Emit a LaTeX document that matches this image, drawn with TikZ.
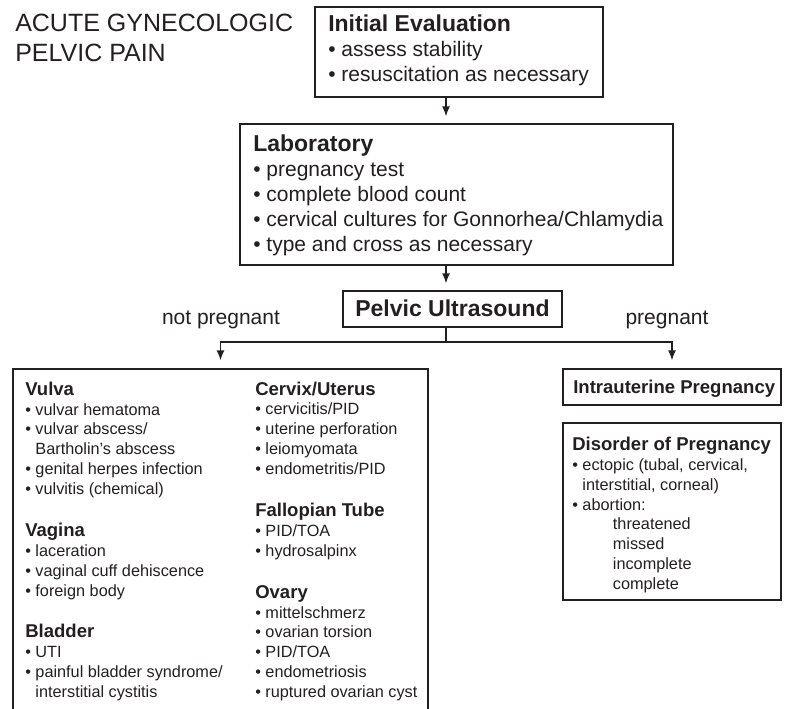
\documentclass[tikz,border=0pt]{standalone}
\usepackage{fontspec}
\setmainfont{Liberation Sans}
\usetikzlibrary{arrows.meta,fit}

\definecolor{ink}{RGB}{35,31,32}

\tikzset{
  boxline/.style={draw=ink, line width=1pt, inner sep=0pt},
  % multi-line text nodes sit on the baseline of their last line
  bigtext/.style={anchor=base west, inner sep=0pt, align=left, text=ink, font=\fontsize{15.75}{18.75}\selectfont},
  smalltext/.style={anchor=base west, inner sep=0pt, align=left, text=ink, font=\fontsize{12.2}{14.8}\selectfont},
  flow/.style={draw=ink, line width=1.1pt},
  arr/.style={flow, -{Latex[length=7.5pt,width=6pt]}},
}
\newcommand{\bighead}[1]{{\fontsize{17.25}{18.75}\selectfont\bfseries #1}}
\newcommand{\smallhead}[1]{{\fontsize{13.9}{14.8}\selectfont\bfseries #1}}
\newcommand{\itm}{\textbullet\ }
\newcommand{\cnt}{\hphantom{\textbullet}\ }

\begin{document}
\begin{tikzpicture}[x=0.75pt,y=0.75pt,yscale=-1,xscale=1]
\useasboundingbox (0,0) rectangle (785,709);

% Text Node
\node[anchor=base west, inner sep=0pt, align=left, text=ink, font=\fontsize{18.75}{22.5}\selectfont] (title) at (15,62) {ACUTE GYNECOLOGIC\\PELVIC PAIN};

%Shape: Rectangle
\node[boxline, fit={(315,7) (603,97)}] (ini) {};
% Text Node
\node[bigtext] (iniText) at (328,82) {\bighead{Initial Evaluation}\\\itm assess stability\\\itm resuscitation as necessary};

%Shape: Rectangle
\node[boxline, fit={(240,124) (673,265)}] (lab) {};
% Text Node
\node[bigtext] (labText) at (253,252) {\bighead{Laboratory}\\\itm pregnancy test\\\itm complete blood count\\\itm cervical cultures for Gonnorhea/Chlamydia\\\itm type and cross as necessary};

%Shape: Rectangle
\node[boxline, fit={(343,291) (562,327)}] (pus) {};
% Text Node
\node[anchor=base, inner sep=0pt, text=ink, font=\fontsize{17.25}{18.75}\selectfont\bfseries] (pusText) at (452.5,316) {Pelvic Ultrasound};

% Text Node
\node[anchor=base, inner sep=0pt, text=ink, font=\fontsize{15.75}{18.75}\selectfont] (npLabel) at (221,325) {not pregnant};
% Text Node
\node[anchor=base, inner sep=0pt, text=ink, font=\fontsize{15.75}{18.75}\selectfont] (pLabel) at (667,325) {pregnant};

%Shape: Rectangle (runs off the page at the bottom)
\node[boxline, fit={(13,369) (428,720)}] (dx) {};
% Text Node
\node[smalltext] (vulva) at (25,494) {\smallhead{Vulva}\\\itm vulvar hematoma\\\itm vulvar abscess/\\\cnt Bartholin’s abscess\\\itm genital herpes infection\\\itm vulvitis (chemical)};
% Text Node
\node[smalltext] (vagina) at (25,596) {\smallhead{Vagina}\\\itm laceration\\\itm vaginal cuff dehiscence\\\itm foreign body};
% Text Node
\node[smalltext] (bladder) at (25,697) {\smallhead{Bladder}\\\itm UTI\\\itm painful bladder syndrome/\\\cnt interstitial cystitis};
% Text Node
\node[smalltext] (cervix) at (255,474) {\smallhead{Cervix/Uterus}\\\itm cervicitis/PID\\\itm uterine perforation\\\itm leiomyomata\\\itm endometritis/PID};
% Text Node
\node[smalltext] (tube) at (255,556) {\smallhead{Fallopian Tube}\\\itm PID/TOA\\\itm hydrosalpinx};
% Text Node
\node[smalltext] (ovary) at (255,697) {\smallhead{Ovary}\\\itm mittelschmerz\\\itm ovarian torsion\\\itm PID/TOA\\\itm endometriosis\\\itm ruptured ovarian cyst};

%Shape: Rectangle
\node[boxline, fit={(563,369) (781,405)}] (iup) {};
% Text Node
\node[smalltext] (iupText) at (573,393) {\smallhead{Intrauterine Pregnancy}};

%Shape: Rectangle
\node[boxline, fit={(563,423) (781,600)}] (dop) {};
% Text Node
\node[smalltext] (dopText) at (572,589) {\smallhead{Disorder of Pregnancy}\\\itm ectopic (tubal, cervical,\\\cnt interstitial, corneal)\\\itm abortion:\\\hspace*{2.5em}threatened\\\hspace*{2.5em}missed\\\hspace*{2.5em}incomplete\\\hspace*{2.5em}complete};

% Connectors
\coordinate (spine) at (446,0);
\coordinate (fork) at (446,342);
\draw[arr, shorten >=5.25pt] (ini.south -| spine) -- (lab.north -| spine);
\draw[arr, shorten >=5.25pt] (lab.south -| spine) -- (pus.north -| spine);
\draw[flow] (pus.south -| spine) -- (fork);
\draw[arr, shorten >=6pt] (fork) -| (dx.north);
\draw[arr, shorten >=6pt] (fork) -| (iup.north);

\end{tikzpicture}
\end{document}
